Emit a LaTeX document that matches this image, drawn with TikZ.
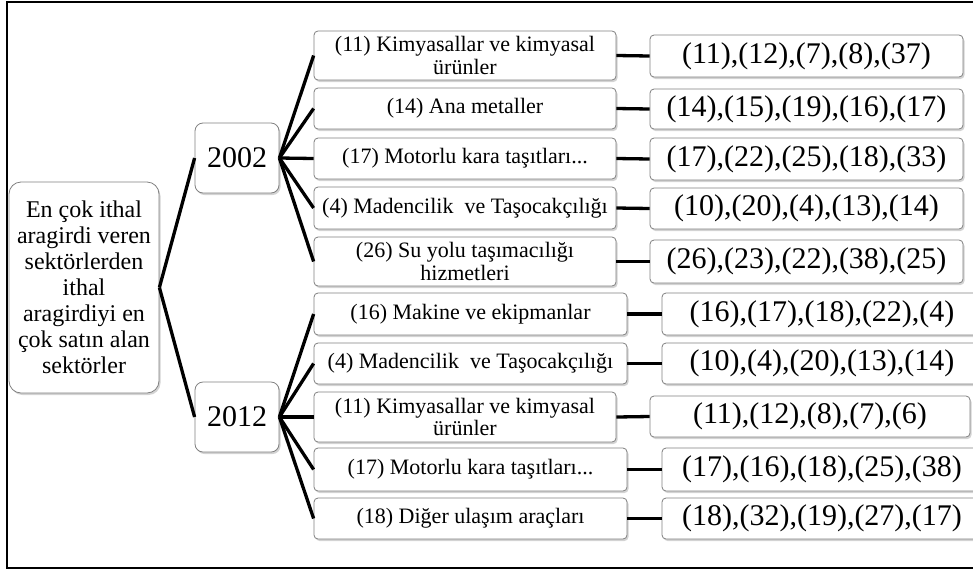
\documentclass[tikz,border=0pt]{standalone}
\usepackage{fontspec}
\setmainfont{Liberation Serif}
\usetikzlibrary{shadows}

\begin{document}
\begin{tikzpicture}[x=1pt, y=-1pt,
		box/.style={draw=black!50, line width=0.8pt, fill=white, rounded corners=4pt, inner sep=0pt, align=center,
			drop shadow={shadow xshift=1.5pt, shadow yshift=-2pt, opacity=0.35}},
		rootbox/.style={box, rounded corners=12pt, minimum width=150pt, minimum height=211pt, font=\fontsize{24}{26}\selectfont},
		yearbox/.style={box, rounded corners=8pt, minimum width=84pt, minimum height=70pt, font=\fontsize{30}{32}\selectfont},
		sektor/.style={box, minimum width=302pt, minimum height=41pt, font=\fontsize{22}{22.5}\selectfont},
		liste/.style={box, minimum width=313pt, minimum height=41pt, font=\fontsize{30}{32}\selectfont},
		link/.style={line width=3.3pt}]
			\useasboundingbox (0,0) rectangle (973,571);
			\clip (0,0) rectangle (973,571);
			\draw[line width=1.5pt] (990,2) -- (7,2) -- (7,568) -- (990,568);

			\node[rootbox] (root) at (84,287.5) {En çok ithal\\aragirdi veren\\sektörlerden\\ithal\\aragirdiyi en\\çok satın alan\\sektörler};
			\node[yearbox] (y02) at (237,158) {2002};
			\node[yearbox] (y12) at (237,417) {2012};
			\draw[link] (root.east)--(y02.west);
			\draw[link] (root.east)--(y12.west);

			% 2002
			\node[sektor, minimum height=49pt] (s1) at (465,55.5) {(11) Kimyasallar ve kimyasal\\ürünler};
			\node[sektor] (s2) at (465,108.5) {(14) Ana metaller};
			\node[sektor] (s3) at (465,158.5) {(17) Motorlu kara taşıtları...};
			\node[sektor, minimum height=42pt] (s4) at (465,208) {(4) Madencilik \ ve Taşocakçılığı};
			\node[sektor, minimum height=49pt] (s5) at (465,261.5) {(26) Su yolu taşımacılığı\\hizmetleri};
			\node[liste, minimum height=42pt] (r1) at (806.5,56) {(11),(12),(7),(8),(37)};
			\node[liste, minimum height=40pt] (r2) at (806.5,109) {(14),(15),(19),(16),(17)};
			\node[liste, minimum height=42pt] (r3) at (806.5,159) {(17),(22),(25),(18),(33)};
			\node[liste] (r4) at (806.5,208.5) {(10),(20),(4),(13),(14)};
			\node[liste, minimum height=43pt] (r5) at (806.5,261.5) {(26),(23),(22),(38),(25)};
			\draw[link] (y02.east)--(s1.west);
			\draw[link] (y02.east)--(s2.west);
			\draw[link] (y02.east)--(s3.west);
			\draw[link] (y02.east)--(s4.west);
			\draw[link] (y02.east)--(s5.west);
			\draw[link] (s1.east)--(r1.west);
			\draw[link] (s2.east)--(r2.west);
			\draw[link] (s3.east)--(r3.west);
			\draw[link] (s4.east)--(r4.west);
			\draw[link] (s5.east)--(r5.west);

			% 2012
			\node[sektor, minimum width=313pt, minimum height=42pt] (s6) at (470.5,314) {(16) Makine ve ekipmanlar};
			\node[sektor, minimum width=313pt] (s7) at (470.5,363.5) {(4) Madencilik \ ve Taşocakçılığı};
			\node[sektor, minimum height=50pt] (s8) at (465,417) {(11) Kimyasallar ve kimyasal\\ürünler};
			\node[sektor, minimum width=313pt, minimum height=43pt] (s9) at (470.5,469.5) {(17) Motorlu kara taşıtları...};
			\node[sektor, minimum width=313pt] (s10) at (470.5,518.5) {(18) Diğer ulaşım araçları};
			\node[liste, minimum width=320pt, minimum height=42pt] (r6) at (822,314) {(16),(17),(18),(22),(4)};
			\node[liste, minimum width=320pt] (r7) at (822,363.5) {(10),(4),(20),(13),(14)};
			\node[liste, minimum width=320pt] (r8) at (810,416.5) {(11),(12),(8),(7),(6)};
			\node[liste, minimum width=320pt, minimum height=43pt] (r9) at (822,469.5) {(17),(16),(18),(25),(38)};
			\node[liste, minimum width=320pt] (r10) at (822,518.5) {(18),(32),(19),(27),(17)};
			\draw[link] (y12.east)--(s6.west);
			\draw[link] (y12.east)--(s7.west);
			\draw[link] (y12.east)--(s8.west);
			\draw[link] (y12.east)--(s9.west);
			\draw[link] (y12.east)--(s10.west);
			\draw[link] (s6.east)--(r6.west);
			\draw[link] (s7.east)--(r7.west);
			\draw[link] (s8.east)--(r8.west);
			\draw[link] (s9.east)--(r9.west);
			\draw[link] (s10.east)--(r10.west);
		\end{tikzpicture}
\end{document}
